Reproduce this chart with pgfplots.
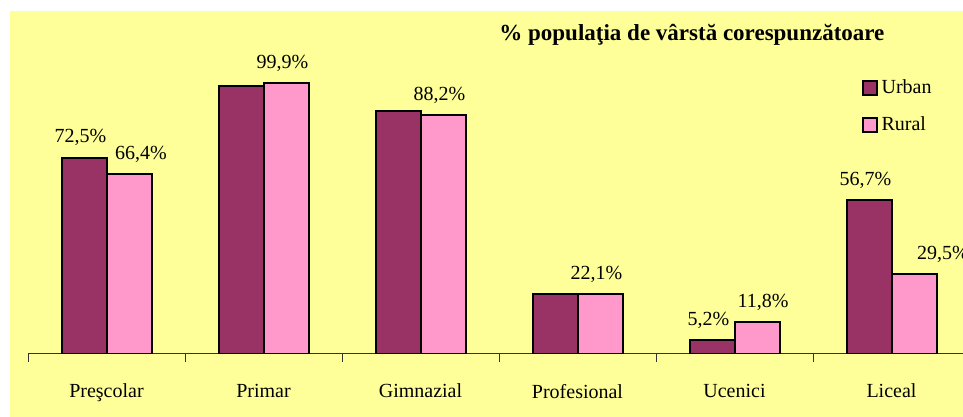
\documentclass[border=0pt]{standalone}
\usepackage{pgfplots}
\pgfplotsset{compat=1.18}
\usepackage{fontspec}
\setmainfont{Liberation Serif}
\definecolor{bgyellow}{HTML}{FFFF99}
\definecolor{urbancol}{HTML}{993366}
\definecolor{ruralcol}{HTML}{FF99CC}
\pgfplotsset{sqlegend/.style={legend image code/.code={%
  \draw[##1, line width=0.6pt] (0pt,-3.5pt) rectangle (7pt,3.5pt);}}}
\begin{document}
\begin{tikzpicture}
\fill[white] (0,0) rectangle (481.5pt,208.5pt);
\useasboundingbox (0,0) rectangle (481.5pt,208.5pt);
\fill[bgyellow] (5pt,0) rectangle (481.5pt,203pt);
\node[anchor=west, inner sep=0pt, font=\bfseries\fontsize{11.5}{13}\selectfont]
  at (249.5pt,191pt) {\% populaţia de vârstă corespunzătoare};
\begin{axis}[
    at={(14pt,31.5pt)}, anchor=south west,
    scale only axis,
    width=471pt, height=162.5pt,
    ybar=0pt,
    bar width=22.5pt,
    xmin=-0.5, xmax=5.5,
    ymin=0, ymax=120,
    axis x line=bottom,
    axis y line=none,
    axis line style={-, black!80, line width=0.5pt},
    xtick={-0.5,0.5,...,5.5},
    xticklabels={},
    tick align=outside,
    major tick length=4pt,
    tick style={black!80, line width=0.5pt},
    extra x ticks={0,1,2,3,4,5},
    extra x tick labels={Preşcolar, Primar, Gimnazial, Profesional, Ucenici, Liceal},
    extra x tick style={major tick length=0pt,
      tick label style={font=\fontsize{10}{12}\selectfont, yshift=-11.5pt}},
    point meta=explicit symbolic,
    nodes near coords,
    nodes near coords style={font=\fontsize{10}{12}\selectfont, anchor=south,
      yshift=2pt, xshift=-1.75pt},
    legend style={at={(0.879,0.87)}, anchor=north west, draw=none, fill=none,
      font=\fontsize{10}{12}\selectfont, row sep=6pt},
    legend cell align=left,
  ]
\addplot[draw=black, line width=1pt, fill=urbancol, sqlegend]
  table[x=x, y=y, meta=lab] {
x y lab
0 72.5 {72,5\%}
1 99.1 {}
2 89.9 {}
3 22.1 {}
4 5.2 {5,2\%}
5 56.7 {56,7\%}
};
\addlegendentry{Urban}
\addplot[draw=black, line width=1pt, fill=ruralcol, sqlegend]
  table[x=x, y=y, meta=lab] {
x y lab
0 66.4 {\hspace*{15.5pt}66,4\%}
1 99.9 {99,9\%}
2 88.2 {88,2\%}
3 22.1 {22,1\%}
4 11.8 {\hspace*{9.5pt}11,8\%}
5 29.5 {\hspace*{32.5pt}29,5\%}
};
\addlegendentry{Rural}
\end{axis}
\end{tikzpicture}
\end{document}
